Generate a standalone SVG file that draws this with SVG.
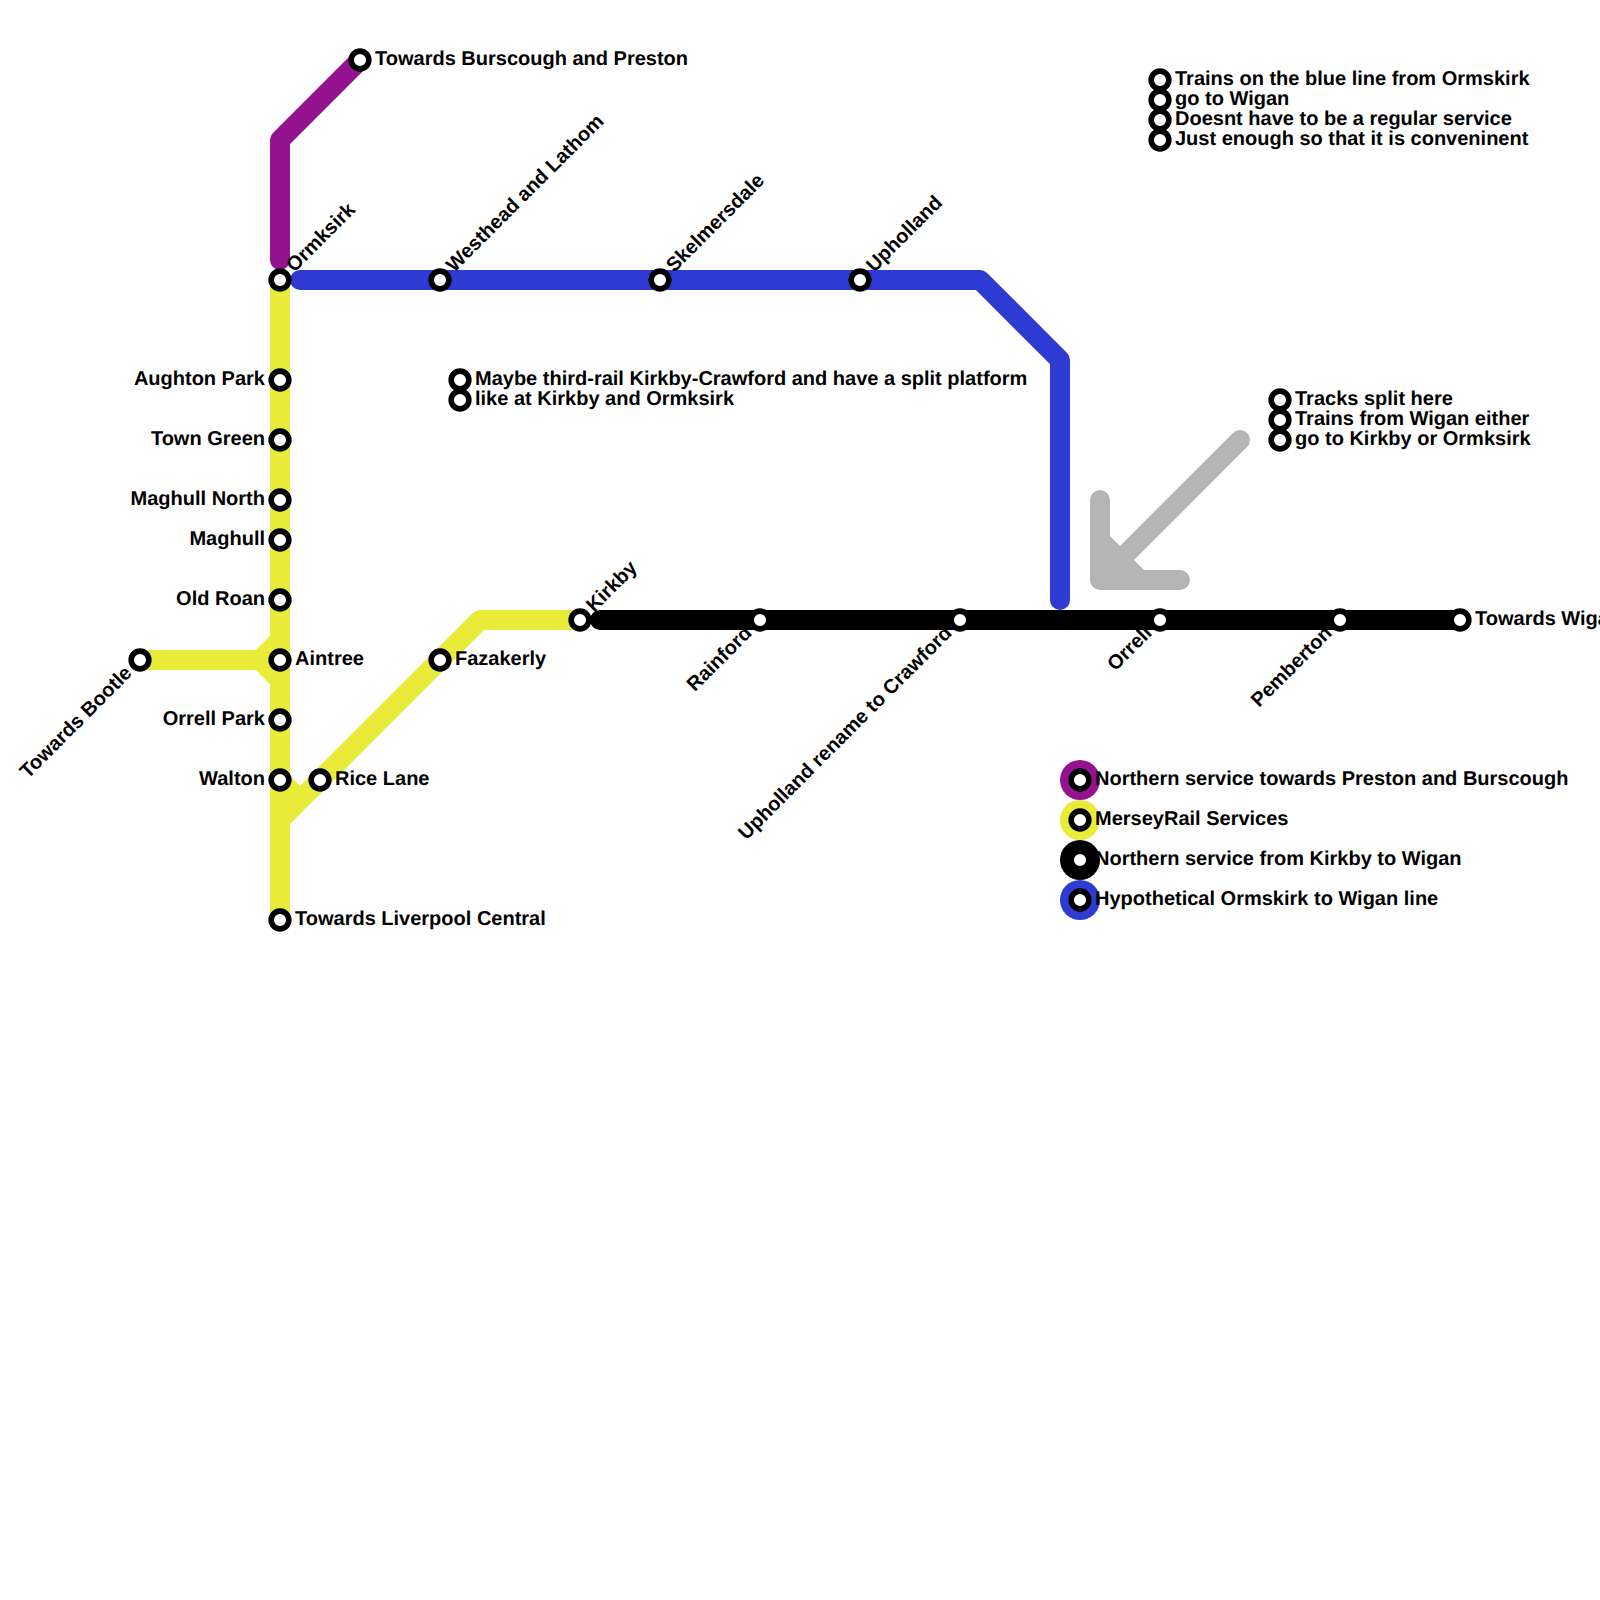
<svg xmlns="http://www.w3.org/2000/svg" width="1600" height="1600" viewBox="0 0 1600 1600">
<style>
text{font-family:"Liberation Sans",Arial,sans-serif;font-weight:bold;font-size:20px;fill:#000;text-rendering:geometricPrecision}
.e{text-anchor:end}
.l{fill:none;stroke-width:20;stroke-linecap:round;stroke-linejoin:round}
.p{stroke:#93128e}.y{stroke:#e8ec38}.b{stroke:#2d3bd3}.k{stroke:#000}.g{stroke:#b5b5b6}
.s{fill:#fff;stroke:#000;stroke-width:5.6}
</style>
<defs><circle id="st" class="s" r="8.85"/></defs>
<rect width="1600" height="1600" fill="#fff"/>
<g id="connectors">
<path class="l y" style="stroke-linecap:butt" d="M280 280V920M140 660H260L280 640M260 660L280 680M280 780L300 800L480 620H580M280 820L300 800"/>
<path class="l p" d="M280 260V140L360 60"/>
<path class="l b" d="M300 280H980L1060 360V600"/>
<path class="l k" d="M600 620H1460"/>
<path class="l g" d="M1100 500V580H1180M1240 440L1100 580M1100 540L1140 580"/>
</g>
<g id="n1"><use href="#st" x="360" y="60"/><text x="375" y="65">Towards Burscough and Preston</text></g>
<g id="n2"><use href="#st" x="280" y="280"/><text transform="translate(280 280) rotate(-45) translate(15 5)">Ormksirk</text></g>
<g id="n3"><use href="#st" x="440" y="280"/><text transform="translate(440 280) rotate(-45) translate(15 5)">Westhead and Lathom</text></g>
<g id="n4"><use href="#st" x="660" y="280"/><text transform="translate(660 280) rotate(-45) translate(15 5)">Skelmersdale</text></g>
<g id="n5"><use href="#st" x="860" y="280"/><text transform="translate(860 280) rotate(-45) translate(15 5)">Upholland</text></g>
<g id="n6"><use href="#st" x="280" y="380"/><text class="e" x="265" y="385">Aughton Park</text></g>
<g id="n7"><use href="#st" x="280" y="440"/><text class="e" x="265" y="445">Town Green</text></g>
<g id="n8"><use href="#st" x="280" y="500"/><text class="e" x="265" y="505">Maghull North</text></g>
<g id="n9"><use href="#st" x="280" y="540"/><text class="e" x="265" y="545">Maghull</text></g>
<g id="n10"><use href="#st" x="280" y="600"/><text class="e" x="265" y="605">Old Roan</text></g>
<g id="n11"><use href="#st" x="280" y="660"/><text x="295" y="665">Aintree</text></g>
<g id="n12"><use href="#st" x="280" y="720"/><text class="e" x="265" y="725">Orrell Park</text></g>
<g id="n13"><use href="#st" x="280" y="780"/><text class="e" x="265" y="785">Walton</text></g>
<g id="n14"><use href="#st" x="280" y="920"/><text x="295" y="925">Towards Liverpool Central</text></g>
<g id="n15"><use href="#st" x="320" y="780"/><text x="335" y="785">Rice Lane</text></g>
<g id="n16"><use href="#st" x="440" y="660"/><text x="455" y="665">Fazakerly</text></g>
<g id="n17"><use href="#st" x="580" y="620"/><text transform="translate(580 620) rotate(-45) translate(15 5)">Kirkby</text></g>
<g id="n18"><use href="#st" x="140" y="660"/><text class="e" transform="translate(140 660) rotate(-45) translate(-15 5)">Towards Bootle</text></g>
<g id="n19"><use href="#st" x="760" y="620"/><text class="e" transform="translate(760 620) rotate(-45) translate(-15 5)">Rainford</text></g>
<g id="n20"><use href="#st" x="960" y="620"/><text class="e" transform="translate(960 620) rotate(-45) translate(-15 5)">Upholland rename to Crawford</text></g>
<g id="n21"><use href="#st" x="1160" y="620"/><text class="e" transform="translate(1160 620) rotate(-45) translate(-15 5)">Orrell</text></g>
<g id="n22"><use href="#st" x="1340" y="620"/><text class="e" transform="translate(1340 620) rotate(-45) translate(-15 5)">Pemberton</text></g>
<g id="n23"><use href="#st" x="1460" y="620"/><text x="1475" y="625">Towards Wigan</text></g>
<g id="note1">
<use href="#st" x="460" y="380"/><use href="#st" x="460" y="400"/>
<text x="475" y="385">Maybe third-rail Kirkby-Crawford and have a split platform</text>
<text x="475" y="405">like at Kirkby and Ormksirk</text></g>
<g id="note2">
<use href="#st" x="1160" y="80"/><use href="#st" x="1160" y="100"/><use href="#st" x="1160" y="120"/><use href="#st" x="1160" y="140"/>
<text x="1175" y="85">Trains on the blue line from Ormskirk</text>
<text x="1175" y="105">go to Wigan</text>
<text x="1175" y="125">Doesnt have to be a regular service</text>
<text x="1175" y="145">Just enough so that it is conveninent</text></g>
<g id="note3">
<use href="#st" x="1280" y="400"/><use href="#st" x="1280" y="420"/><use href="#st" x="1280" y="440"/>
<text x="1295" y="405">Tracks split here</text>
<text x="1295" y="425">Trains from Wigan either</text>
<text x="1295" y="445">go to Kirkby or Ormksirk</text></g>
<g id="legend1"><circle cx="1080" cy="780" r="20" fill="#93128e"/><use href="#st" x="1080" y="780"/><text x="1095" y="785">Northern service towards Preston and Burscough</text></g>
<g id="legend2"><circle cx="1080" cy="820" r="20" fill="#e8ec38"/><use href="#st" x="1080" y="820"/><text x="1095" y="825">MerseyRail Services</text></g>
<g id="legend3"><circle cx="1080" cy="860" r="20" fill="#000"/><use href="#st" x="1080" y="860"/><text x="1095" y="865">Northern service from Kirkby to Wigan</text></g>
<g id="legend4"><circle cx="1080" cy="900" r="20" fill="#2d3bd3"/><use href="#st" x="1080" y="900"/><text x="1095" y="905">Hypothetical Ormskirk to Wigan line</text></g>
</svg>
